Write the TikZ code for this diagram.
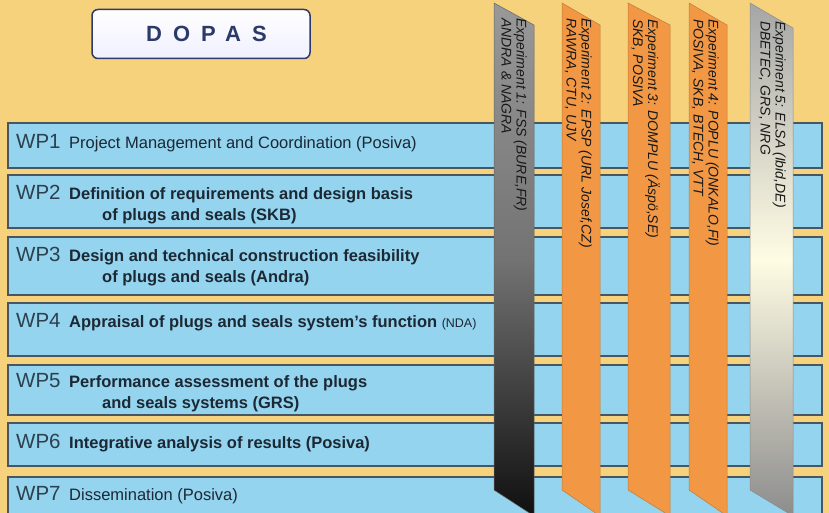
\documentclass[tikz,border=0pt]{standalone}
\usepackage{fontspec}
\setmainfont{Liberation Sans}
\usepackage{tikz}

\definecolor{bgyellow}{RGB}{246,210,124}
\definecolor{wpblue}{RGB}{148,212,238}
\definecolor{wpedge}{RGB}{72,86,98}
\definecolor{wplabelc}{RGB}{44,64,78}
\definecolor{wptext}{RGB}{28,40,52}
\definecolor{exporange}{RGB}{242,152,68}
\definecolor{dopasnavy}{RGB}{44,58,106}
\definecolor{cream}{RGB}{255,252,228}

\begin{document}
\begin{tikzpicture}[x=1pt,y=-1pt,
  wpbox/.style={fill=wpblue,draw=wpedge,line width=1.3pt},
  wplabel/.style={anchor=base west,inner sep=0pt,text=wplabelc,font=\fontsize{20.5}{20.5}\selectfont},
  wptitle/.style={anchor=base west,inner sep=0pt,text=wptext,align=left,font=\fontsize{16.5}{21}\selectfont\bfseries},
  strip/.style={draw=#1,line width=0.5pt},
  exptext/.style={rotate=-90,anchor=north west,inner sep=0pt,align=left,text=black!90,font=\fontsize{14}{15}\selectfont\itshape}]

  \useasboundingbox (0,0) rectangle (829,513);
  \clip (0,0) rectangle (829,513);
  \fill[bgyellow] (0,0) rectangle (829,513);

  % project title
  \node[draw=dopasnavy,line width=1.5pt,rounded corners=6pt,top color=white,bottom color=blue!6,
        minimum width=218pt,minimum height=49pt,text=dopasnavy,
        font=\fontsize{22}{22}\selectfont\bfseries\addfontfeatures{LetterSpace=50}] (dopas) at (201,34) {\hspace*{11pt}DOPAS};

  % work package bars
  \draw[wpbox] (8,123) rectangle (822,168);
  \draw[wpbox] (8,175) rectangle (822,228);
  \draw[wpbox] (8,237) rectangle (822,295);
  \draw[wpbox] (8,303) rectangle (822,356);
  \draw[wpbox] (8,365) rectangle (822,415);
  \draw[wpbox] (8,423) rectangle (822,466);
  \draw[wpbox] (8,477) rectangle (822,530);

  % work package labels (two-line titles sit on their last baseline)
  \node[wplabel] (wp1) at (16,149) {WP1};
  \node[wptitle,font=\fontsize{16.5}{21}\selectfont] (wp1t) at (69,149) {Project Management and Coordination (Posiva)};
  \node[wplabel] (wp2) at (16,199) {WP2};
  \node[wptitle] (wp2t) at (69,220) {Definition of requirements and design basis\\\hspace*{33pt}of plugs and seals (SKB)};
  \node[wplabel] (wp3) at (16,261) {WP3};
  \node[wptitle] (wp3t) at (69,282) {Design and technical construction feasibility\\\hspace*{33pt}of plugs and seals (Andra)};
  \node[wplabel] (wp4) at (16,327) {WP4};
  \node[wptitle] (wp4t) at (69,327) {Appraisal of plugs and seals system's function {\mdseries\fontsize{12.5}{12.5}\selectfont(NDA)}};
  \node[wplabel] (wp5) at (16,387) {WP5};
  \node[wptitle] (wp5t) at (69,408) {Performance assessment of the plugs\\\hspace*{33pt}and seals systems (GRS)};
  \node[wplabel] (wp6) at (16,448) {WP6};
  \node[wptitle] (wp6t) at (69,448) {Integrative analysis of results (Posiva)};
  \node[wplabel] (wp7) at (16,500) {WP7};
  \node[wptitle,font=\fontsize{16.5}{21}\selectfont] (wp7t) at (69,500) {Dissemination (Posiva)};

  % experiment strips
  \path[strip=black!60,top color=black!40,bottom color=black!94,middle color=black!55] (494,3) -- (534,25) -- (534,516) -- (494,490) -- cycle;
  \path[strip=exporange!80!black,fill=exporange] (562,3) -- (600,25) -- (600,516) -- (562,490) -- cycle;
  \path[strip=exporange!80!black,fill=exporange] (628,3) -- (670,25) -- (670,516) -- (628,490) -- cycle;
  \path[strip=exporange!80!black,fill=exporange] (689,3) -- (727,25) -- (727,516) -- (689,490) -- cycle;
  \path[strip=black!45,top color=black!35,bottom color=black!45,middle color=cream] (750,3) -- (793,28) -- (793,516) -- (750,490) -- cycle;

  % experiment labels
  \node[exptext] (exp1) at (527,18) {Experiment 1: FSS (BURE,FR)\\ANDRA \& NAGRA};
  \node[exptext] (exp2) at (592,18) {Experiment 2: EPSP (URL Josef,CZ)\\RAWRA, CTU, UJV};
  \node[exptext] (exp3) at (660,19) {Experiment 3: DOMPLU (Äspö,SE)\\SKB, POSIVA};
  \node[exptext] (exp4) at (719,19) {Experiment 4: POPLU (ONKALO,FI)\\POSIVA, SKB, BTECH, VTT};
  \node[exptext] (exp5) at (786,21) {Experiment 5: ELSA (Ibid,DE)\\DBETEC, GRS, NRG};

\end{tikzpicture}
\end{document}
